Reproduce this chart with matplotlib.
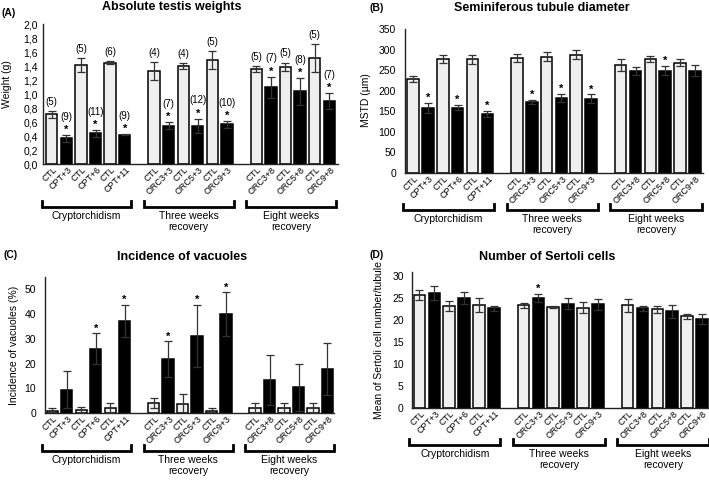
import matplotlib
matplotlib.use('Agg')
import matplotlib.pyplot as plt
import numpy as np
from matplotlib.transforms import blended_transform_factory, ScaledTranslation

plt.rcParams['font.family'] = ['Liberation Sans', 'DejaVu Sans']

# ---------------- data ----------------
categories = ['CTL', 'CPT+3', 'CTL', 'CPT+6', 'CTL', 'CPT+11',
              'CTL', 'ORC3+3', 'CTL', 'ORC5+3', 'CTL', 'ORC9+3',
              'CTL', 'ORC3+8', 'CTL', 'ORC5+8', 'CTL', 'ORC9+8']
treated = [False, True] * 9
groups = ['Cryptorchidism', 'Three weeks\nrecovery', 'Eight weeks\nrecovery']

weight_mean = [0.71, 0.37, 1.41, 0.44, 1.45, 0.42,
               1.33, 0.55, 1.40, 0.55, 1.49, 0.57,
               1.36, 1.10, 1.39, 1.04, 1.52, 0.90]
weight_err = [0.05, 0.05, 0.10, 0.05, 0.02, 0.01,
              0.13, 0.05, 0.04, 0.10, 0.13, 0.05,
              0.04, 0.15, 0.06, 0.19, 0.20, 0.12]
weight_n = ['(5)', '(9)', '(5)', '(11)', '(6)', '(9)',
            '(4)', '(7)', '(4)', '(12)', '(5)', '(10)',
            '(5)', '(7)', '(5)', '(8)', '(5)', '(7)']
weight_sig = [0, 1, 0, 1, 0, 1, 0, 1, 0, 1, 0, 1, 0, 1, 0, 1, 0, 1]

mstd_mean = [228, 159, 278, 159, 277, 143,
             280, 172, 283, 182, 287, 181,
             262, 247, 278, 249, 268, 249]
mstd_err = [8, 12, 10, 6, 11, 8,
            9, 5, 10, 10, 11, 10,
            14, 10, 7, 12, 8, 13]
mstd_sig = [0, 1, 0, 1, 0, 1, 0, 1, 0, 1, 0, 1, 0, 0, 0, 1, 0, 0]

vac_mean = [0.8, 9.5, 1.3, 26.0, 2.0, 37.3,
            4.0, 21.8, 3.5, 31.2, 0.8, 40.0,
            2.0, 13.3, 2.0, 10.5, 2.0, 17.8]
vac_err = [1.2, 7.5, 1.3, 6.2, 2.0, 6.5,
           2.0, 7.2, 4.1, 12.5, 1.2, 8.8,
           2.0, 10.0, 2.0, 9.5, 2.0, 10.5]
vac_sig = [0, 0, 0, 1, 0, 1, 0, 1, 0, 1, 0, 1, 0, 0, 0, 0, 0, 0]

sert_mean = [25.8, 26.2, 23.3, 25.1, 23.4, 22.7,
             23.4, 25.1, 23.0, 23.8, 22.9, 23.6,
             23.4, 22.7, 22.5, 22.0, 20.9, 20.3]
sert_err = [1.1, 1.6, 1.2, 1.3, 1.6, 0.5,
            0.5, 0.9, 0.2, 1.3, 1.3, 1.3,
            1.5, 0.5, 0.8, 1.5, 0.5, 1.1]
sert_sig = [0, 0, 0, 0, 0, 0, 0, 1, 0, 0, 0, 0, 0, 0, 0, 0, 0, 0]

# ---------------- layout ----------------
W, H = 709, 480
fig = plt.figure(figsize=(W / 100, H / 100), dpi=100)

pos = np.array([i + i // 6 for i in range(len(categories))], dtype=float)

def px_axes(left, right, top, bottom):
    return fig.add_axes([left / W, 1 - bottom / H, (right - left) / W, (bottom - top) / H])

def draw_panel(ax, mean, err, sig, ylim, yticks, fmt, ytickpad, n_labels=None,
               bracket_dy=40, xlim=(-0.55, 19.55)):
    colors = ['black' if t else '#efefef' for t in treated]
    ax.bar(pos, mean, width=0.78, color=colors, edgecolor='black', linewidth=1.1, zorder=2)
    ax.errorbar(pos, mean, yerr=err, fmt='none', ecolor='#333333', elinewidth=0.9,
                capsize=2.6, capthick=0.9, zorder=3)
    ax.set_xlim(*xlim)
    ax.set_ylim(*ylim)
    ax.set_yticks(yticks)
    ax.set_yticklabels([fmt(v) for v in yticks], fontsize=7.5)
    ax.tick_params(axis='y', length=0, pad=ytickpad)
    ax.tick_params(axis='x', length=0, pad=3)
    ax.set_xticks(pos)
    ax.set_xticklabels(categories, rotation=45, ha='right', va='center',
                       rotation_mode='anchor', fontsize=6.5)
    off = ScaledTranslation(4 / 100, 0, fig.dpi_scale_trans)
    for lab in ax.get_xticklabels():
        lab.set_transform(lab.get_transform() + off)
    for s in ['top', 'right']:
        ax.spines[s].set_visible(False)
    for s in ['left', 'bottom']:
        ax.spines[s].set_linewidth(1.0)
        ax.spines[s].set_color('#222222')
    # stars and n labels
    for i, (p, m, e) in enumerate(zip(pos, mean, err)):
        top = m + e
        if sig[i]:
            ax.annotate('*', (p, top), xytext=(0, 3.5), textcoords='offset points',
                        ha='center', va='center', fontsize=8, fontweight='bold')
        if n_labels is not None:
            dy = 13 if sig[i] else 6.5
            ax.annotate(n_labels[i], (p, top), xytext=(0, dy), textcoords='offset points',
                        ha='center', va='center', fontsize=7)
    # brackets
    bb = ax.get_position()
    h_px = bb.height * H
    tr = blended_transform_factory(ax.transData, ax.transAxes)
    yb = -bracket_dy / h_px
    ye = yb + 6 / h_px
    for g in range(3):
        s = pos[g * 6]
        e = pos[g * 6 + 5]
        x0, x1 = s - 0.7, e + 0.45
        ax.plot([x0, x0, x1, x1], [ye, yb, yb, ye], color='black', lw=2.0,
                transform=tr, clip_on=False, solid_joinstyle='miter')
        ax.text((x0 + x1) / 2, yb - 4 / h_px, groups[g], transform=tr, ha='center',
                va='top', fontsize=7.5, linespacing=1.15)

comma = lambda v: f"{v:.1f}".replace('.', ',')
intf = lambda v: f"{int(v)}"

axA = px_axes(43, 338, 24, 164)
draw_panel(axA, weight_mean, weight_err, weight_sig, (0, 2.0), np.arange(0, 2.01, 0.2),
           comma, 3.5, n_labels=weight_n, bracket_dy=43, xlim=(-0.6, 19.6))
axB = px_axes(405, 703, 29, 173)
draw_panel(axB, mstd_mean, mstd_err, mstd_sig, (0, 350), np.arange(0, 351, 50),
           intf, 6.5, bracket_dy=37, xlim=(-0.55, 19.55))
axC = px_axes(45, 334, 277, 413)
draw_panel(axC, vac_mean, vac_err, vac_sig, (0, 55), np.arange(0, 51, 10),
           intf, 6.5, bracket_dy=38, xlim=(-0.5, 19.45))
axD = px_axes(412, 709, 272, 408)
draw_panel(axD, sert_mean, sert_err, sert_sig, (0, 31), np.arange(0, 31, 5),
           intf, 6, bracket_dy=37, xlim=(-0.5, 19.47))

def ftext(x, y, s, **kw):
    fig.text(x / W, 1 - y / H, s, **kw)

# titles
ftext(172, 7, 'Absolute testis weights', ha='center', va='center', fontsize=9, fontweight='bold')
ftext(542, 8, 'Seminiferous tubule diameter', ha='center', va='center', fontsize=9, fontweight='bold')
ftext(182, 257, 'Incidence of vacuoles', ha='center', va='center', fontsize=9, fontweight='bold')
ftext(547, 257, 'Number of Sertoli cells', ha='center', va='center', fontsize=9, fontweight='bold')
# panel letters
ftext(2, 13, '(A)', ha='left', va='center', fontsize=7.5, fontweight='bold')
ftext(370, 8, '(B)', ha='left', va='center', fontsize=7.5, fontweight='bold')
ftext(4, 255, '(C)', ha='left', va='center', fontsize=7.5, fontweight='bold')
ftext(370, 255, '(D)', ha='left', va='center', fontsize=7.5, fontweight='bold')
# y labels
ftext(7, 84, 'Weight (g)', rotation=90, ha='center', va='center', fontsize=7.5)
ftext(366, 100, 'MSTD (µm)', rotation=90, ha='center', va='center', fontsize=7.5)
ftext(14, 345, 'Incidence of vacuoles (%)', rotation=90, ha='center', va='center', fontsize=7.5)
ftext(379, 340, 'Mean of Sertoli cell number/tubule', rotation=90, ha='center', va='center', fontsize=7.5)

fig.savefig('out.png', dpi=100)
